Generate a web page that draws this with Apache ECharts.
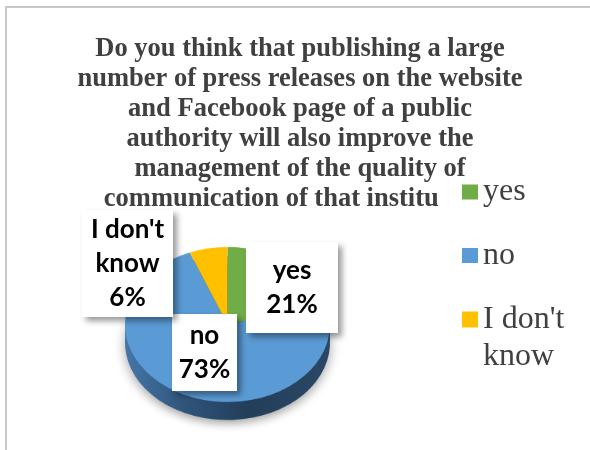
<!DOCTYPE html>
<html>
<head>
<meta charset="utf-8">
<script src="https://cdn.jsdelivr.net/npm/echarts@6/dist/echarts.min.js"></script>
<style>
  html, body { margin: 0; padding: 0; background: #fff; }
  #wrap { position: relative; width: 590px; height: 450px; overflow: hidden; background: #fff; }
  /* the pie layer is squashed vertically to give the tilted 3D look */
  #pie { position: absolute; left: 0; top: 0; width: 590px; height: 600px; transform-origin: 0 0; }
  #main { position: absolute; left: 0; top: 0; width: 590px; height: 450px; }
</style>
</head>
<body>
<div id="wrap"><div id="pie"></div><div id="main"></div></div>
<script>
// Survey answers (percent of respondents)
const categories = ['yes', 'no', "I don't know"];
const shares = [21, 73, 6];
const sliceColors = ['#70ad47', '#5b9bd5', '#ffc000'];
const titleText = [
  'Do you think that publishing a large',
  'number of press releases on the website',
  'and Facebook page of a public',
  'authority will also improve the',
  'management of the quality of',
  'communication of that institution?'
].join('\n');

// Pie geometry (screen pixels after tilting)
const TILT = 0.756;
const CX = 227.5, CY = 324.5, R = 102.5, DEPTH = 18;

// Data label boxes: centre, width, vertical padding
const labelBoxes = [
  { cx: 292, cy: 287.5, w: 92, padV: 11.5 },
  { cx: 204.5, cy: 352.5, w: 65, padV: 4.5 },
  { cx: 127.5, cy: 263.5, w: 91, padV: 2.5 }
];

// Greedy word wrap for the data labels
function wrapWords(text, maxChars) {
  const lines = [];
  let line = '';
  text.split(' ').forEach((w) => {
    const next = line ? line + ' ' + w : w;
    if (next.length > maxChars && line) { lines.push(line); line = w; }
    else line = next;
  });
  if (line) lines.push(line);
  return lines.join('\n');
}

const pieEl = document.getElementById('pie');
pieEl.style.transform = 'scaleY(' + TILT + ')';

function pieData() {
  return categories.map((name, i) => ({ name: name, value: shares[i] }));
}

const sideGradient = {
  type: 'linear', global: true,
  x: CX - R, y: 0, x2: CX + R, y2: 0,
  colorStops: [
    { offset: 0, color: '#4676a8' },
    { offset: 0.3, color: '#2f5479' },
    { offset: 0.6, color: '#233e59' },
    { offset: 1, color: '#2a4866' }
  ]
};

function pieLayer(drop, itemStyle, z) {
  return {
    type: 'pie',
    silent: true,
    z: z,
    center: [CX, (CY + drop) / TILT],
    radius: R,
    startAngle: 90,
    clockwise: true,
    label: { show: false },
    labelLine: { show: false },
    itemStyle: Object.assign({ borderWidth: 0 }, itemStyle),
    data: pieData()
  };
}

const pieChart = echarts.init(pieEl, null, { renderer: 'canvas' });
pieChart.setOption({
  animation: false,
  series: [
    pieLayer(DEPTH, {
      color: sideGradient,
      shadowBlur: 12, shadowColor: 'rgba(0,0,0,0.35)', shadowOffsetY: 5
    }, 1),
    pieLayer(DEPTH / 2, { color: sideGradient }, 2),
    Object.assign(pieLayer(0, {}, 3), {
      data: categories.map((name, i) => ({
        name: name, value: shares[i], itemStyle: { color: sliceColors[i] }
      }))
    })
  ]
});

// Title, legend, labels and frame
const legendText = { fontFamily: 'Liberation Serif', fontSize: 32, color: '#404040' };
const legendCommon = {
  orient: 'vertical',
  itemWidth: 16,
  itemHeight: 15,
  icon: 'rect',
  selectedMode: false,
  itemStyle: { borderWidth: 0, opacity: 1 },
  z: 5
};

const main = echarts.init(document.getElementById('main'), null, { renderer: 'canvas' });
main.setOption({
  animation: false,
  graphic: [{
    type: 'rect', silent: true, z: 0,
    shape: { x: 6, y: 7, width: 700, height: 600 },
    style: { fill: 'none', stroke: '#c8c8c8', lineWidth: 2 }
  }],
  title: {
    text: titleText,
    left: 300,
    top: 34,
    textAlign: 'center',
    padding: 0,
    z: 1,
    textStyle: {
      fontFamily: 'Liberation Serif', fontWeight: 'bold', fontSize: 26.5,
      color: '#404040', lineHeight: 30
    }
  },
  legend: [
    Object.assign({}, legendCommon, {
      left: 438, top: 176,
      padding: [0, 10, 5, 24],
      backgroundColor: '#fff',
      textStyle: Object.assign({ lineHeight: 32 }, legendText),
      data: [{ name: categories[0], itemStyle: { color: sliceColors[0] } }]
    }),
    Object.assign({}, legendCommon, {
      left: 462, top: 237, padding: 0,
      textStyle: Object.assign({ lineHeight: 37 }, legendText),
      data: [{ name: categories[1], itemStyle: { color: sliceColors[1] } }]
    }),
    Object.assign({}, legendCommon, {
      left: 462, top: 301.5, padding: 0,
      itemHeight: 54,
      textStyle: Object.assign({ lineHeight: 37, width: 100, overflow: 'break' }, legendText),
      data: [{
        name: categories[2],
        icon: 'path://M0,0L16,0L16,16L0,16Z M0,53.99L0.01,53.99L0.01,54L0,54Z',
        itemStyle: { color: sliceColors[2] }
      }]
    })
  ],
  series: [{
    type: 'pie',
    silent: true,
    z: 10,
    center: [CX, CY],
    radius: 40,
    startAngle: 90,
    clockwise: true,
    avoidLabelOverlap: false,
    itemStyle: { color: 'rgba(0,0,0,0)', borderWidth: 0 },
    labelLine: { show: false },
    label: {
      show: true,
      position: 'inside',
      formatter: (p) => wrapWords(p.name, 8) + '\n' + p.value + '%',
      fontFamily: 'Lato', fontWeight: 'bold', fontSize: 26, color: '#000',
      lineHeight: 34,
      backgroundColor: '#fff',
      shadowBlur: 6, shadowColor: 'rgba(0,0,0,0.4)',
      shadowOffsetX: 4, shadowOffsetY: 4
    },
    labelLayout: (params) => {
      const b = labelBoxes[params.dataIndex];
      return { x: b.cx, y: b.cy, align: 'center', verticalAlign: 'middle' };
    },
    data: categories.map((name, i) => ({
      name: name,
      value: shares[i],
      label: { width: labelBoxes[i].w, padding: [labelBoxes[i].padV, 0] }
    }))
  }]
});
</script>
</body>
</html>
